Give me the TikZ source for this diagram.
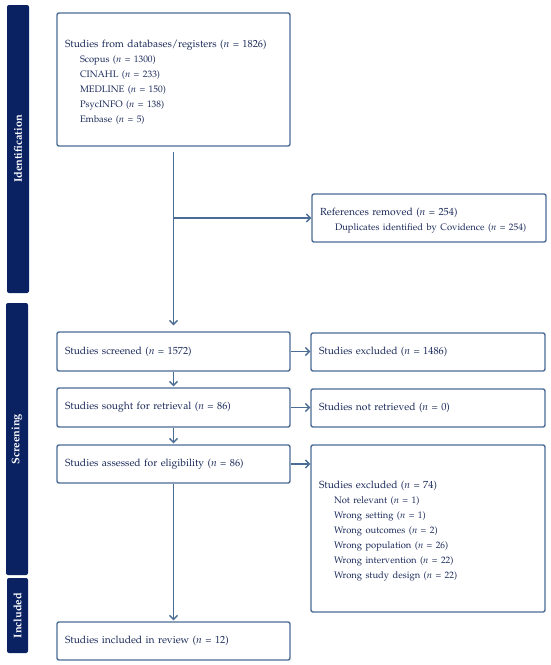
\documentclass[tikz,border=0pt]{standalone}
\usepackage[T1]{fontenc}
\renewcommand{\rmdefault}{ppl}
\usetikzlibrary{arrows.meta}
\definecolor{barnavy}{HTML}{0B2262}
\definecolor{boxline}{HTML}{4A6C95}
\definecolor{txtnavy}{HTML}{1B2A5A}
\tikzset{
  box/.style={draw=boxline, line width=1.4pt, rounded corners=2pt, fill=white,
    inner xsep=8pt, inner ysep=0pt, align=left, text=txtnavy,
    font=\fontsize{10.3}{15}\selectfont},
  phase/.style={fill=barnavy, rounded corners=2pt, rotate=90, text=white,
    font=\fontsize{11}{12}\selectfont\bfseries, inner sep=0pt},
  arr/.style={draw=boxline, line width=1.4pt, -{Straight Barb[length=4pt,width=8pt,line width=1.3pt]}},
  ln/.style={draw=boxline, line width=1.4pt}
}
\newcommand{\ind}[1]{\mbox{\hspace*{15pt}\fontsize{9.4}{15}\selectfont #1}}
\begin{document}
\begin{tikzpicture}[x=1pt,y=-1pt]
\useasboundingbox (0,0) rectangle (550,665);
% phase bars
\node[phase, minimum width=288pt, minimum height=22pt] (pid) at (18,149) {Identification};
\node[phase, minimum width=272pt, minimum height=22pt] (psc) at (17,439) {Screening};
\node[phase, minimum width=75pt, minimum height=21pt] (pin) at (17.5,615.5) {Included};
% boxes
\node[box, minimum width=233pt, minimum height=133pt, text width=217pt] (src) at (173.5,79.5)
  {\mbox{\rule{0pt}{12pt}Studies from databases/registers (\textit{n} = 1826)}\\
   \ind{Scopus (\textit{n} = 1300)}\\
   \ind{CINAHL (\textit{n} = 233)}\\
   \ind{MEDLINE (\textit{n} = 150)}\\
   \ind{PsycINFO (\textit{n} = 138)}\\
   \ind{Embase (\textit{n} = 5)}};
\node[box, minimum width=234pt, minimum height=48pt, text width=218pt] (rem) at (429,218)
  {\mbox{\rule{0pt}{13.5pt}References removed (\textit{n} = 254)}\\
   \ind{Duplicates identified by Covidence (\textit{n} = 254)}};
\node[box, minimum width=233pt, minimum height=39pt, text width=217pt] (scr) at (173.5,351.5)
  {Studies screened (\textit{n} = 1572)};
\node[box, minimum width=234pt, minimum height=38pt, text width=218pt] (exa) at (428,352)
  {Studies excluded (\textit{n} = 1486)};
\node[box, minimum width=233pt, minimum height=39pt, text width=217pt] (sou) at (173.5,407.5)
  {Studies sought for retrieval (\textit{n} = 86)};
\node[box, minimum width=234pt, minimum height=38pt, text width=218pt] (nre) at (428,408)
  {Studies not retrieved (\textit{n} = 0)};
\node[box, minimum width=233pt, minimum height=38pt, text width=217pt] (ass) at (173.5,464)
  {Studies assessed for eligibility (\textit{n} = 86)};
\node[box, minimum width=234pt, minimum height=167pt, text width=218pt] (exb) at (428,528.5)
  {\mbox{\rule{0pt}{12pt}Studies excluded (\textit{n} = 74)}\\
   \ind{Not relevant (\textit{n} = 1)}\\
   \ind{Wrong setting (\textit{n} = 1)}\\
   \ind{Wrong outcomes (\textit{n} = 2)}\\
   \ind{Wrong population (\textit{n} = 26)}\\
   \ind{Wrong intervention (\textit{n} = 22)}\\
   \ind{Wrong study design (\textit{n} = 22)}};
\node[box, minimum width=233pt, minimum height=38pt, text width=217pt] (inc) at (173.5,641)
  {Studies included in review (\textit{n} = 12)};
% connectors
\draw[arr, shorten <=5pt, shorten >=6pt] (src.south) -- (scr.north);
\draw[arr] (src.south |- rem.west) -- (rem.west);
\draw[arr, shorten >=1pt] (scr.south) -- (sou.north);
\draw[arr, shorten >=1pt] (sou.south) -- (ass.north);
\draw[arr, shorten >=1pt] (ass.south) -- (inc.north);
\draw[arr] (scr.east) -- (scr.east -| exa.west);
\draw[arr] (sou.east) -- (sou.east -| nre.west);
\draw[arr] (ass.east) -- (ass.east -| exb.west);
\end{tikzpicture}
\end{document}
